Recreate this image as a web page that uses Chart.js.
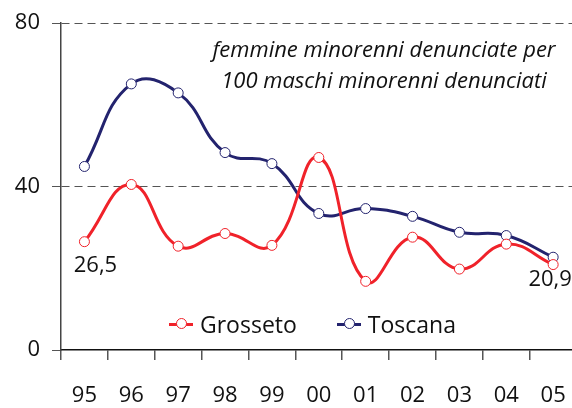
<!DOCTYPE html>
<html>
<head>
<meta charset="utf-8">
<script src="https://cdn.jsdelivr.net/npm/chart.js@4.4.0/dist/chart.umd.min.js"></script>
<style>
  html, body { margin: 0; padding: 0; background: #fff; overflow: hidden; }
  #wrap { position: relative; width: 589px; height: 408px; }
  .note { position: absolute; left: 196px; top: 33px; width: 376px; text-align: center;
          font: italic 22px "Open Sans", sans-serif; line-height: 31px; color: #111; }
  #legend { position: absolute; top: 308px; left: 169px; display: flex; gap: 40px;
            font: 23px "Open Sans", sans-serif; color: #111; }
  .legend-item { display: flex; align-items: center; }
  .mark { position: relative; width: 24px; height: 3px; margin-right: 7px; }
  .mark::after { content: ''; position: absolute; left: 7px; top: -5px; width: 11px; height: 11px;
                 border-radius: 50%; background: #fff; border: 1px solid currentColor; box-sizing: border-box; }
</style>
</head>
<body>
<div id="wrap">
  <canvas id="c" width="589" height="408"></canvas>
  <div class="note">femmine minorenni denunciate per<br>100 maschi minorenni denunciati</div>
  <div id="legend"></div>
</div>
<script>
const anni = ['95', '96', '97', '98', '99', '00', '01', '02', '03', '04', '05'];
const grosseto = [26.5, 40.5, 25.4, 28.5, 25.6, 47.1, 16.8, 27.6, 19.8, 25.9, 20.9];
const toscana = [44.9, 65.1, 62.9, 48.3, 45.6, 33.4, 34.6, 32.7, 28.8, 28.0, 22.7];
const yTicks = [0, 40, 80];

const rosso = '#f0222a';
const blu = '#23236e';
const font = '"Open Sans", sans-serif';

// etichette del primo e ultimo valore di Grosseto
const etichette = {
  id: 'etichette',
  afterDatasetsDraw(chart) {
    const c = chart.ctx;
    const pts = chart.getDatasetMeta(0).data;
    c.save();
    c.font = '22px ' + font;
    c.fillStyle = '#111';
    c.textAlign = 'center';
    c.textBaseline = 'middle';
    c.fillText(grosseto[0].toString().replace('.', ','), pts[0].x + 11, pts[0].y + 24);
    const u = pts.length - 1;
    c.fillText(grosseto[u].toString().replace('.', ','), pts[u].x - 3, pts[u].y + 15);
    c.restore();
  }
};

const serie = (label, data, colore) => ({
  label, data,
  borderColor: colore,
  backgroundColor: colore,
  borderWidth: 3,
  tension: 0.45,
  pointRadius: 5,
  pointBorderWidth: 1,
  pointBackgroundColor: '#fff',
  pointBorderColor: colore
});

new Chart(document.getElementById('c'), {
  type: 'line',
  data: {
    labels: anni,
    datasets: [serie('Grosseto', grosseto, rosso), serie('Toscana', toscana, blu)]
  },
  options: {
    responsive: false,
    animation: false,
    layout: { padding: { top: 19, right: 2, left: 0, bottom: 0 } },
    plugins: { legend: { display: false }, tooltip: { enabled: false } },
    scales: {
      x: {
        offset: true,
        grid: { offset: true, drawOnChartArea: false, tickLength: 10, color: '#555', lineWidth: 1.5 },
        border: { color: '#111', width: 1.5 },
        ticks: { font: { size: 22, family: font }, color: '#111', padding: 23, maxRotation: 0 },
        afterFit(s) { s.height = 58; }
      },
      y: {
        min: 0, max: 80,
        afterBuildTicks(s) { s.ticks = yTicks.map(v => ({ value: v })); },
        grid: {
          color: (ctx) => ctx.tick && ctx.tick.value === 0 ? 'rgba(0,0,0,0)' : '#555',
          tickColor: '#555',
          tickLength: 9,
          lineWidth: 1
        },
        border: { color: '#444', width: 1.5, dash: [8, 5] },
        ticks: { font: { size: 22, family: font, lineHeight: 1 }, color: '#111', padding: 12 },
        afterFit(s) { s.width = 61; }
      }
    }
  },
  plugins: [etichette]
});

const legendDiv = document.getElementById('legend');
[{ color: rosso, label: 'Grosseto' }, { color: blu, label: 'Toscana' }].forEach(item => {
  const entry = document.createElement('div');
  entry.classList.add('legend-item');
  entry.innerHTML = `<span class="mark" style="background:${item.color};color:${item.color}"></span>${item.label}`;
  legendDiv.appendChild(entry);
});
</script>
</body>
</html>
